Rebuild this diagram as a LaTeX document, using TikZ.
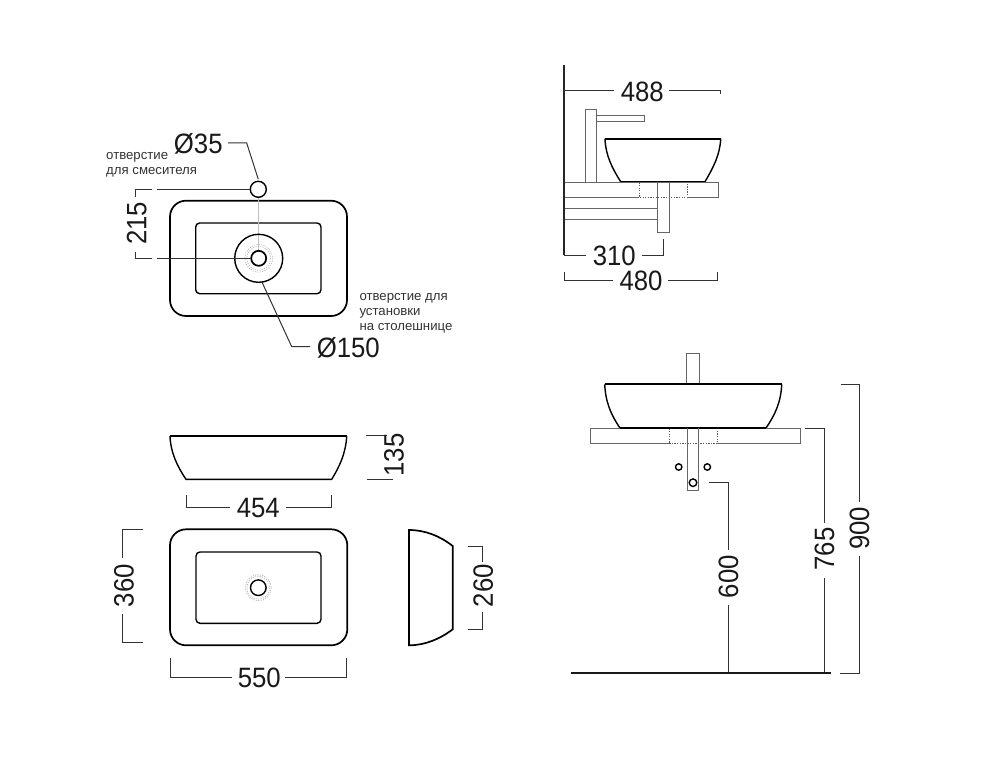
\documentclass[tikz,border=0pt]{standalone}
\usepackage{fontspec}
\usepackage{graphicx}
\setmainfont{Liberation Sans}
\newcommand{\nm}[1]{\scalebox{0.92}[1]{#1}}
\tikzset{
  dim/.style={draw=black!80,line width=1pt},
  lite/.style={draw=black!60,line width=1pt},
  heavy/.style={draw=black,line width=1.7pt},
  med/.style={draw=black,line width=1.4pt},
  dots/.style={draw=black!65,line width=0.7pt,dash pattern=on 1.3pt off 1.3pt},
  fine/.style={draw=black!35,line width=0.5pt,dash pattern=on 1.2pt off 1.2pt},
  num/.style={font=\fontsize{28}{28}\selectfont,inner sep=0pt,text=black!90},
  note/.style={font=\fontsize{13.2}{15}\selectfont,inner sep=0pt,anchor=west,align=left,text=black!80},
}
\begin{document}
\begin{tikzpicture}[x=1pt,y=-1pt]
\useasboundingbox[fill=white] (0,0) rectangle (1000,778);
% ---- top view with holes
\draw[heavy,rounded corners=16pt] (170,200.7) rectangle (347,316);
\draw[med,rounded corners=4pt] (195.7,223) rectangle (321,293.7);
\draw[draw=black!25,line width=0.5pt] (258.7,197) -- (258.7,250);
\draw[med] (258.7,258.3) circle (24);
\draw[fine] (258.7,258.3) circle (12);
\draw[fine] (258.7,258.3) circle (13.8);
\draw[heavy] (258.7,258.3) circle (7.5);
\draw[med] (258.3,189.3) circle (8);
\draw[dim] (228,143) -- (246.7,143) -- (258.3,179.3);
\draw[dim] (135.7,196.7) -- (135.7,189.3) -- (152.3,189.3);
\draw[dim] (156.7,189.3) -- (250.3,189.3);
\draw[dim] (135.7,251.7) -- (135.7,258.3) -- (152.3,258.3);
\draw[dim] (156.7,258.3) -- (251,258.3);
\draw[dim] (261.7,281.5) -- (291.7,346.7) -- (310,346.7);
\node[num] (d35) at (198.3,144) {\nm{Ø35}};
\node[num] (d150) at (348.3,347.7) {\nm{Ø150}};
\node[num,rotate=90] (h215) at (136.7,223.3) {\nm{215}};
\node[note] (n1) at (106,164.5) {отверстие\\для смесителя};
\node[note] (n2) at (359.3,313.5) {отверстие для\\установки\\на столешнице};
% ---- side view
\draw[draw=black!85,line width=1.6pt] (564,65) -- (564,255);
\draw[dim] (564,255) -- (586,255);
\draw[dim] (641.7,255) -- (663.3,255) -- (663.3,239.3);
\draw[dim] (564,91) -- (614,91);
\draw[dim] (669.3,91) -- (720.7,91) -- (720.7,94.3);
\draw[dim] (564,271.7) -- (564,280) -- (612.7,280);
\draw[dim] (668.3,280) -- (717.7,280) -- (717.7,271.7);
\node[num] (w488) at (642.3,91.7) {\nm{488}};
\node[num] (w310) at (614.3,256) {\nm{310}};
\node[num] (w480) at (641,280.5) {\nm{480}};
\draw[lite] (585.3,181.7) -- (585.3,109.3) -- (596.3,109.3) -- (596.3,181.7);
\draw[lite] (596.3,115.7) -- (644.3,115.7) -- (644.3,122) -- (596.3,122);
\draw[heavy] (605,138.7) -- (720.7,138.7);
\draw[med] (605,138.7) .. controls (605.5,155) and (612,168) .. (620.7,181.7) -- (705,181.7) .. controls (713,168) and (720,155) .. (720.7,138.7);
\draw[lite] (564.7,182.3) -- (718,182.3) -- (718,197.3) -- (687.3,197.3);
\draw[lite] (564.7,197.3) -- (639.3,197.3);
\draw[dots] (639.3,182.3) -- (639.3,197.3) -- (687.3,197.3) -- (687.3,182.3);
\draw[lite] (657.7,181.7) -- (657.7,232) -- (669,232) -- (669,181.7);
\draw[lite] (564.7,208.3) -- (657.7,208.3);
\draw[lite] (564.7,219) -- (657.7,219);
\draw[med] (620.7,181.7) -- (705,181.7);
% ---- front view installed
\draw[lite] (686.7,384.3) -- (686.7,353.3) -- (699.7,353.3) -- (699.7,384.3);
\draw[heavy] (604.7,384.3) -- (781.7,384.3);
\draw[med] (604.7,384.3) .. controls (605.5,402) and (611,415) .. (620,428) -- (766,428) .. controls (775,415) and (781,402) .. (781.7,384.3);
\draw[lite] (669,428.3) -- (590.7,428.3) -- (590.7,443.7) -- (669,443.7);
\draw[lite] (717.3,428.3) -- (800,428.3) -- (800,443.7) -- (717.3,443.7);
\draw[dots] (669,428.3) -- (669,443.7) -- (717.3,443.7) -- (717.3,428.3);
\draw[draw=black,line width=1.5pt] (620,428) -- (766,428);
\draw[lite] (687.7,428) -- (687.7,490.7) -- (698.3,490.7) -- (698.3,428);
\draw[med] (693,482.7) circle (3.8);
\draw[med] (678.7,467) circle (3.2);
\draw[med] (707.3,467) circle (3.2);
\draw[dim] (709,482.7) -- (728,482.7) -- (728,550);
\draw[dim] (728,605) -- (728,673);
\draw[dim] (805,428.3) -- (824,428.3) -- (824,523.3);
\draw[dim] (824,578) -- (824,673);
\draw[dim] (840.7,384.3) -- (859.7,384.3) -- (859.7,501.7);
\draw[dim] (859.7,556) -- (859.7,673) -- (840,673);
\draw[draw=black!90,line width=1.2pt] (571,673) -- (831,673);
\node[num,rotate=90] (v600) at (728.5,576.7) {\nm{600}};
\node[num,rotate=90] (v765) at (824.5,549) {\nm{765}};
\node[num,rotate=90] (v900) at (859.5,528.5) {\nm{900}};
% ---- elevation
\draw[heavy] (170,436) -- (346.7,436);
\draw[med] (170,436) .. controls (170.5,452) and (177,466) .. (186,479.3) -- (331.7,479.3) .. controls (340,466) and (346,452) .. (346.7,436);
\draw[dim] (365.7,435.7) -- (387,435.7);
\draw[dim] (366.7,479.3) -- (393.3,479.3);
\node[num,rotate=90] (h135) at (394,455) {\nm{135}};
\draw[dim] (186,495) -- (186,507.3) -- (230,507.3);
\draw[dim] (286,507.3) -- (331,507.3) -- (331,495);
\node[num] (w454) at (258.3,508.3) {\nm{454}};
% ---- plan
\draw[heavy,rounded corners=16pt] (170,529.3) rectangle (347.3,645.3);
\draw[med,rounded corners=4pt] (196,552) rectangle (321,623.3);
\draw[fine] (258.3,587.7) circle (11.5);
\draw[fine] (258.3,587.7) circle (13);
\draw[med] (258.3,587.7) circle (7.8);
\draw[dim] (142.7,529.3) -- (122.7,529.3) -- (122.7,558.3);
\draw[dim] (122.7,614) -- (122.7,642.3) -- (142.7,642.3);
\node[num,rotate=90] (h360) at (124,585.7) {\nm{360}};
\draw[dim] (170,658.3) -- (170,677.7) -- (232.3,677.7);
\draw[dim] (285,677.7) -- (346.7,677.7) -- (346.7,658.3);
\node[num] (w550) at (259.3,678.3) {\nm{550}};
% ---- end view
\draw[heavy] (409,530) .. controls (425,530) and (440,536) .. (452.7,546) -- (452.7,629.3) .. controls (440,639) and (425,645.3) .. (409,645.3) -- cycle;
\draw[dim] (468.3,546) -- (482.7,546) -- (482.7,561.7);
\draw[dim] (482.7,611.7) -- (482.7,629.3) -- (468.3,629.3);
\node[num,rotate=90] (h260) at (483.3,585.7) {\nm{260}};
\end{tikzpicture}
\end{document}
